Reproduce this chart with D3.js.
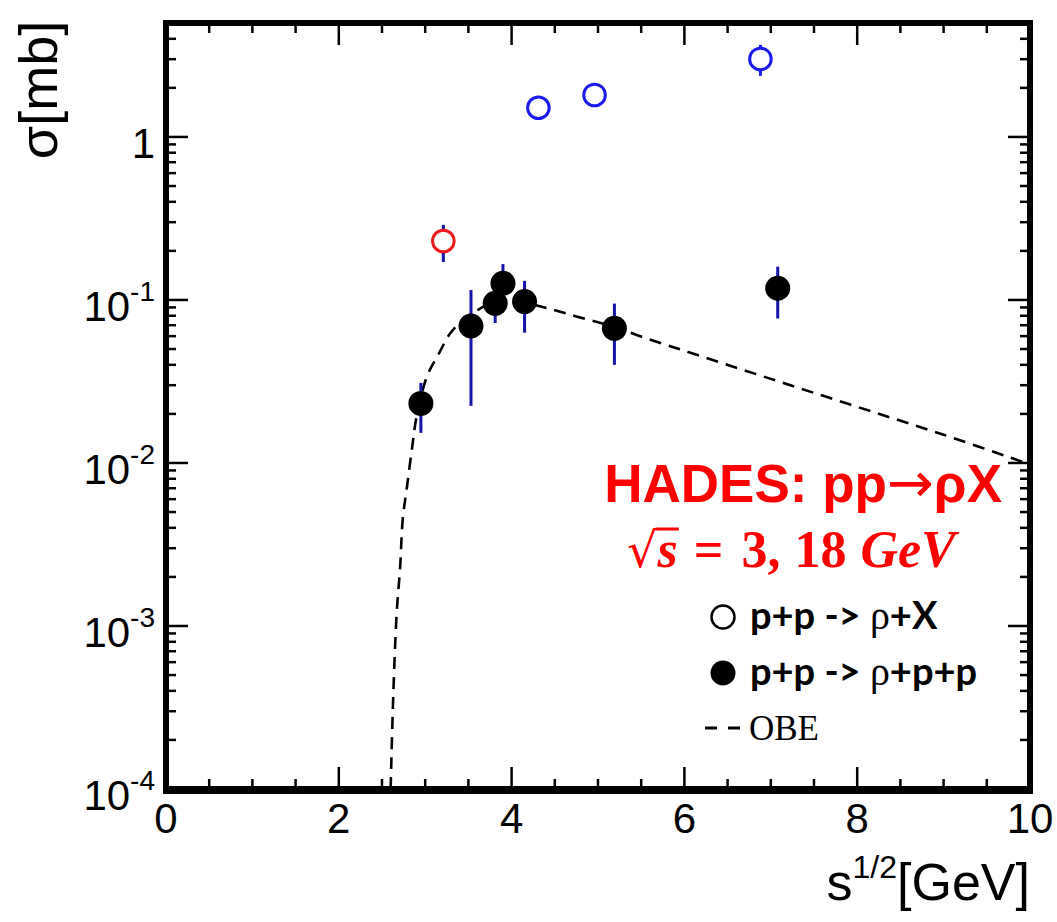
<!DOCTYPE html>
<html>
<head>
<meta charset="utf-8">
<script src="https://cdn.jsdelivr.net/npm/d3@7"></script>
<style>
  html, body { margin: 0; padding: 0; background: #fff; }
  svg { display: block; }
</style>
</head>
<body>
<svg id="chart" width="1057" height="922"></svg>
<script>
// inclusive p+p -> rho+X (blue open circles)
const inclS = [4.31, 4.96, 6.88];
const inclV = [1.51, 1.81, 3.01];
const inclLo = [1.51, 1.81, 2.37];
const inclHi = [1.51, 1.81, 3.67];

// HADES point (red open circle)
const hadesS = [3.21];
const hadesV = [0.230];
const hadesLo = [0.171];
const hadesHi = [0.289];

// exclusive p+p -> rho+p+p (black filled)
const exclS = [2.95, 3.53, 3.81, 3.90, 4.15, 5.19, 7.08];
const exclV = [0.0232, 0.0692, 0.0954, 0.1265, 0.0977, 0.0670, 0.118];
const exclLo = [0.0153, 0.0224, 0.0722, 0.087, 0.063, 0.040, 0.077];
const exclHi = [0.031, 0.115, 0.12, 0.166, 0.131, 0.095, 0.160];

// OBE model curve
const obeS = [2.60, 2.63, 2.67, 2.71, 2.74, 2.79, 2.85, 2.90, 3.02, 3.16, 3.29, 3.44, 3.64, 3.81, 4.0, 4.2, 4.49, 4.76, 5.2, 5.53, 5.80, 6.0, 7.0, 8.0, 9.0, 10.0];
const obeV = [1e-4, 3.7e-4, 1.2e-3, 2.3e-3, 4.5e-3, 7.2e-3, 0.0126, 0.0192, 0.0339, 0.0471, 0.0625, 0.0754, 0.0889, 0.0977, 0.099, 0.095, 0.0868, 0.079, 0.068, 0.0588, 0.0528, 0.0488, 0.0328, 0.0221, 0.0149, 0.0098];

// axis ticks
const xMajor = [0, 2, 4, 6, 8, 10];
const xLabels = ["0", "2", "4", "6", "8", "10"];
const yMajor = [1e-4, 1e-3, 1e-2, 1e-1, 1];
const yBase = ["10", "10", "10", "10", "1"];
const yExp = ["-4", "-3", "-2", "-1", ""];

const margin = { top: 23, left: 166, right: 27, bottom: 133 };
const W = 1057, H = 922;
const width = W - margin.left - margin.right;
const height = H - margin.top - margin.bottom;

const svg = d3.select("#chart");
const g = svg.append("g").attr("transform", `translate(${margin.left},${margin.top})`);

const x = d3.scaleLinear().domain([0, 10]).range([0, width]);
const y = d3.scaleLog().domain([1e-4, 5]).range([height, 0]);

const tickColor = "#000";

// minor ticks
const xMinor = d3.range(0, 10.01, 0.5).filter(v => !xMajor.includes(v));
const yMinor = [];
[-4, -3, -2, -1, 0].forEach(d => {
  for (let k = 2; k <= 9; k++) {
    const v = k * Math.pow(10, d);
    if (v <= 5) yMinor.push(v);
  }
});

function tickLines(sel, values, fn) {
  sel.selectAll(null).data(values).enter().append("line")
    .attr("stroke", tickColor).attr("stroke-width", 2.5)
    .each(function (d) { fn(d3.select(this), d); });
}

const ticks = g.append("g");
// bottom & top
tickLines(ticks, xMajor.slice(1, -1), (s, d) => s.attr("x1", x(d)).attr("x2", x(d)).attr("y1", height).attr("y2", height - 22));
tickLines(ticks, xMinor, (s, d) => s.attr("x1", x(d)).attr("x2", x(d)).attr("y1", height).attr("y2", height - 10));
tickLines(ticks, xMajor.slice(1, -1), (s, d) => s.attr("x1", x(d)).attr("x2", x(d)).attr("y1", 0).attr("y2", 22));
tickLines(ticks, xMinor, (s, d) => s.attr("x1", x(d)).attr("x2", x(d)).attr("y1", 0).attr("y2", 10));
// left & right
tickLines(ticks, yMajor.slice(1), (s, d) => s.attr("y1", y(d)).attr("y2", y(d)).attr("x1", 0).attr("x2", 22));
tickLines(ticks, yMinor, (s, d) => s.attr("y1", y(d)).attr("y2", y(d)).attr("x1", 0).attr("x2", 10));
tickLines(ticks, yMajor.slice(1), (s, d) => s.attr("y1", y(d)).attr("y2", y(d)).attr("x1", width).attr("x2", width - 22));
tickLines(ticks, yMinor, (s, d) => s.attr("y1", y(d)).attr("y2", y(d)).attr("x1", width).attr("x2", width - 10));

// OBE curve
const clipId = "plotclip";
svg.append("defs").append("clipPath").attr("id", clipId)
  .append("rect").attr("x", 0).attr("y", 0).attr("width", width).attr("height", height);

const obe = obeS.map((s, i) => ({ s, v: obeV[i] }));
g.append("path")
  .datum(obe)
  .attr("clip-path", `url(#${clipId})`)
  .attr("fill", "none")
  .attr("stroke", "#000")
  .attr("stroke-width", 2.6)
  .attr("stroke-dasharray", "12,8")
  .attr("d", d3.line().x(d => x(d.s)).y(d => y(d.v)).curve(d3.curveCatmullRom.alpha(0.5)));

// error bars
const barColor = "#1414a8";
function errBars(S, V, Lo, Hi, color) {
  g.append("g").selectAll("line").data(S.map((s, i) => ({ s, lo: Lo[i], hi: Hi[i] })))
    .enter().append("line")
    .attr("x1", d => x(d.s)).attr("x2", d => x(d.s))
    .attr("y1", d => y(d.lo)).attr("y2", d => y(d.hi))
    .attr("stroke", color).attr("stroke-width", 3);
}
errBars(exclS, exclV, exclLo, exclHi, barColor);
errBars(hadesS, hadesV, hadesLo, hadesHi, barColor);
errBars(inclS, inclV, inclLo, inclHi, "#1a1aee");

// markers
g.append("g").selectAll("circle").data(exclS.map((s, i) => ({ s, v: exclV[i] })))
  .enter().append("circle")
  .attr("cx", d => x(d.s)).attr("cy", d => y(d.v)).attr("r", 12.5)
  .attr("fill", "#000");

g.append("g").selectAll("circle").data(inclS.map((s, i) => ({ s, v: inclV[i] })))
  .enter().append("circle")
  .attr("cx", d => x(d.s)).attr("cy", d => y(d.v)).attr("r", 10.8)
  .attr("fill", "#fff").attr("stroke", "#1a1aee").attr("stroke-width", 3);

g.append("g").selectAll("circle").data(hadesS.map((s, i) => ({ s, v: hadesV[i] })))
  .enter().append("circle")
  .attr("cx", d => x(d.s)).attr("cy", d => y(d.v)).attr("r", 10.8)
  .attr("fill", "#fff").attr("stroke", "#ee1a1a").attr("stroke-width", 3);

// frame
g.append("rect")
  .attr("x", 0).attr("y", 0).attr("width", width).attr("height", height)
  .attr("fill", "none").attr("stroke", "#000").attr("stroke-width", 6);
g.append("line").attr("x1", -3).attr("x2", width + 3).attr("y1", height + 1).attr("y2", height + 1)
  .attr("stroke", "#000").attr("stroke-width", 8);

// tick labels
const font = "'Liberation Sans', Arial, Helvetica, sans-serif";
g.append("g").selectAll("text").data(xMajor).enter().append("text")
  .attr("x", d => x(d)).attr("y", height + 44)
  .attr("text-anchor", "middle")
  .attr("font-family", font).attr("font-size", 42)
  .text((d, i) => xLabels[i]);

const yl = g.append("g").selectAll("text").data(yMajor).enter().append("text")
  .attr("x", -11).attr("y", d => y(d) + 21)
  .attr("text-anchor", "end")
  .attr("font-family", font).attr("font-size", 42);
yl.append("tspan").text((d, i) => yBase[i]);
yl.append("tspan").attr("font-size", 28).attr("dy", -20).text((d, i) => yExp[i]);

// axis titles
svg.append("text")
  .attr("transform", `translate(57, 90) rotate(-90)`)
  .attr("text-anchor", "middle")
  .attr("font-family", font).attr("font-size", 54)
  .text("σ[mb]");

const xt = svg.append("text")
  .attr("x", margin.left + width).attr("y", 900)
  .attr("text-anchor", "end")
  .attr("font-family", font).attr("font-size", 52);
xt.append("tspan").text("s");
xt.append("tspan").attr("font-size", 32).attr("dy", -22).text("1/2");
xt.append("tspan").attr("dy", 22).text("[GeV]");

// annotation
const ha = svg.append("text")
  .attr("x", 1002).attr("y", 502)
  .attr("text-anchor", "end")
  .attr("font-family", font).attr("font-weight", "bold").attr("font-size", 53)
  .attr("fill", "#ff0000");
ha.append("tspan").text("HADES: pp");
ha.append("tspan").attr("font-family", "'DejaVu Sans', sans-serif").attr("font-weight", "normal").attr("font-size", 56).text("→");
ha.append("tspan").text("ρX");

const serif = "'Liberation Serif', 'Times New Roman', serif";
const sq = svg.append("text")
  .attr("x", 627).attr("y", 567)
  .attr("font-family", serif).attr("font-weight", "bold").attr("font-size", 52)
  .attr("fill", "#ff0000");
sq.append("tspan").attr("font-weight", "normal").attr("font-family", "'DejaVu Serif', serif").attr("font-size", 48).text("√");
sq.append("tspan").attr("font-style", "italic").text("s");
sq.append("tspan").attr("dx", 16).text("=");
sq.append("tspan").attr("dx", 18).text("3,");
sq.append("tspan").attr("dx", 14).text("18");
sq.append("tspan").attr("dx", 14).attr("font-style", "italic").text("GeV");
// vinculum over s
const rootNode = sq.node();
const e0 = rootNode.getExtentOfChar(0);
const e1 = rootNode.getExtentOfChar(1);
svg.append("line")
  .attr("x1", e0.x + e0.width - 2).attr("x2", e1.x + e1.width + 1)
  .attr("y1", e0.y + 7).attr("y2", e0.y + 7)
  .attr("stroke", "#ff0000").attr("stroke-width", 3);

// legend
const legFont = "Lato, 'Open Sans', sans-serif";
g.append("circle").attr("cx", 723 - margin.left).attr("cy", 617 - margin.top).attr("r", 11.5)
  .attr("fill", "#fff").attr("stroke", "#000").attr("stroke-width", 2.5);
g.append("circle").attr("cx", 723 - margin.left).attr("cy", 673 - margin.top).attr("r", 12.5)
  .attr("fill", "#000");

const l1 = svg.append("text").attr("x", 750).attr("y", 629)
  .attr("font-family", legFont).attr("font-weight", "bold").attr("font-size", 38);
l1.append("tspan").text("p+p -> ");
l1.append("tspan").attr("font-weight", "normal").attr("font-family", serif).attr("font-size", 40).text("ρ");
l1.append("tspan").text("+X");

const l2 = svg.append("text").attr("x", 750).attr("y", 685)
  .attr("font-family", legFont).attr("font-weight", "bold").attr("font-size", 38);
l2.append("tspan").text("p+p -> ");
l2.append("tspan").attr("font-weight", "normal").attr("font-family", serif).attr("font-size", 40).text("ρ");
l2.append("tspan").text("+p+p");

svg.append("line").attr("x1", 705).attr("x2", 742).attr("y1", 728).attr("y2", 728)
  .attr("stroke", "#000").attr("stroke-width", 3).attr("stroke-dasharray", "12,11");
svg.append("text").attr("x", 749).attr("y", 740)
  .attr("font-family", serif).attr("font-size", 35)
  .text("OBE");
</script>
</body>
</html>
